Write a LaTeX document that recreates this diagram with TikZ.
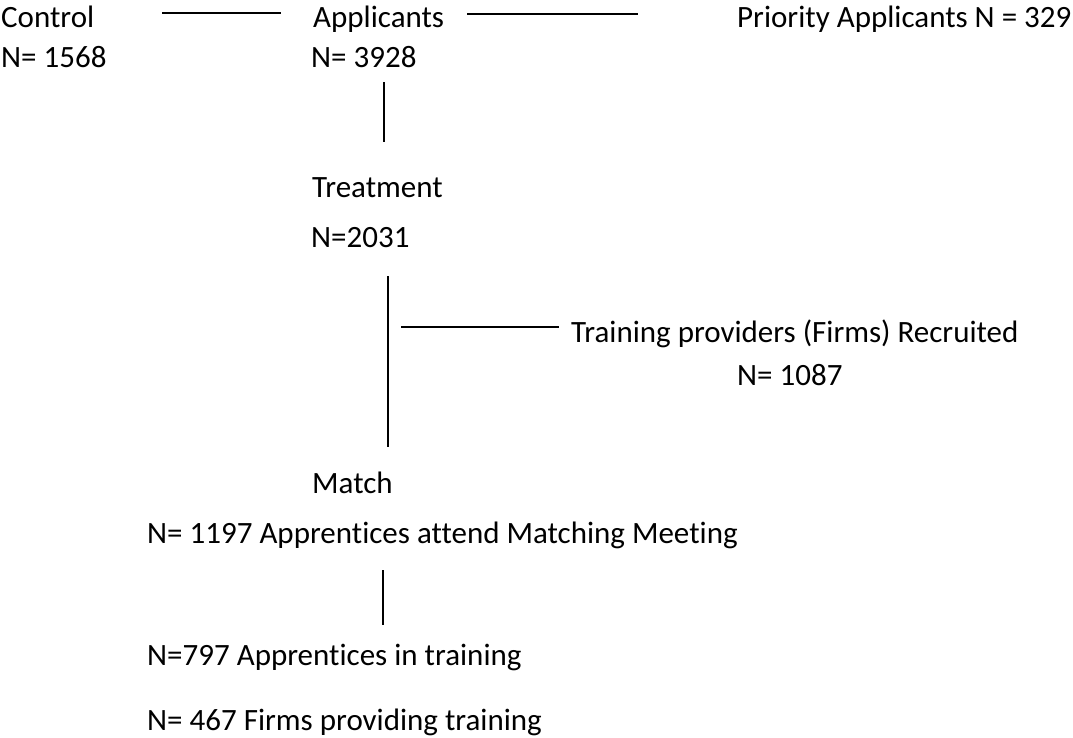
\documentclass[tikz,border=0pt]{standalone}
\usepackage{fontspec}
\setmainfont[Ligatures=NoCommon]{Carlito}
\begin{document}
\begin{tikzpicture}[x=1pt, y=-1pt, lbl/.style={anchor=base west, inner sep=0pt, font=\fontsize{31}{37}\selectfont}, ln/.style={line width=1.6pt}]
\useasboundingbox (0,0) rectangle (1073,737);
\node[lbl] (ctrl) at (1,27){Control};
\node[lbl] (ctrln) at (1,67){N= 1568};
\node[lbl] (appl) at (313,27){Applicants};
\node[lbl] (appln) at (311,67){N= 3928};
\node[lbl] (prio) at (737,27){Priority Applicants N = 329};
\coordinate (l1a) at (162,13);
\coordinate (l1b) at (281,13);
\draw[ln](l1a) -- (l1b);
\coordinate (l2a) at (467,14);
\coordinate (l2b) at (638,14);
\draw[ln](l2a) -- (l2b);
\node[lbl] (treat) at (312,197){Treatment};
\node[lbl] (treatn) at (311,247){N=2031};
\coordinate (v1a) at (384,82);
\coordinate (v1b) at (384,142);
\draw[ln](v1a) -- (v1b);
\node[lbl] (firm) at (571,342){Training providers (Firms) Recruited};
\node[lbl] (firmn) at (737,385){N= 1087};
\coordinate (v2a) at (388,276);
\coordinate (v2b) at (388,447);
\draw[ln](v2a) -- (v2b);
\coordinate (h3a) at (401,327);
\coordinate (h3b) at (559,327);
\draw[ln](h3a) -- (h3b);
\node[lbl] (match) at (312,493){Match};
\node[lbl] (matchn) at (147,543){N= 1197 Apprentices attend Matching Meeting};
\coordinate (v3a) at (383,570);
\coordinate (v3b) at (383,625);
\draw[ln](v3a) -- (v3b);
\node[lbl] (train) at (147,665){N=797 Apprentices in training};
\node[lbl] (trainf) at (147,730){N= 467 Firms providing training};
\end{tikzpicture}
\end{document}
